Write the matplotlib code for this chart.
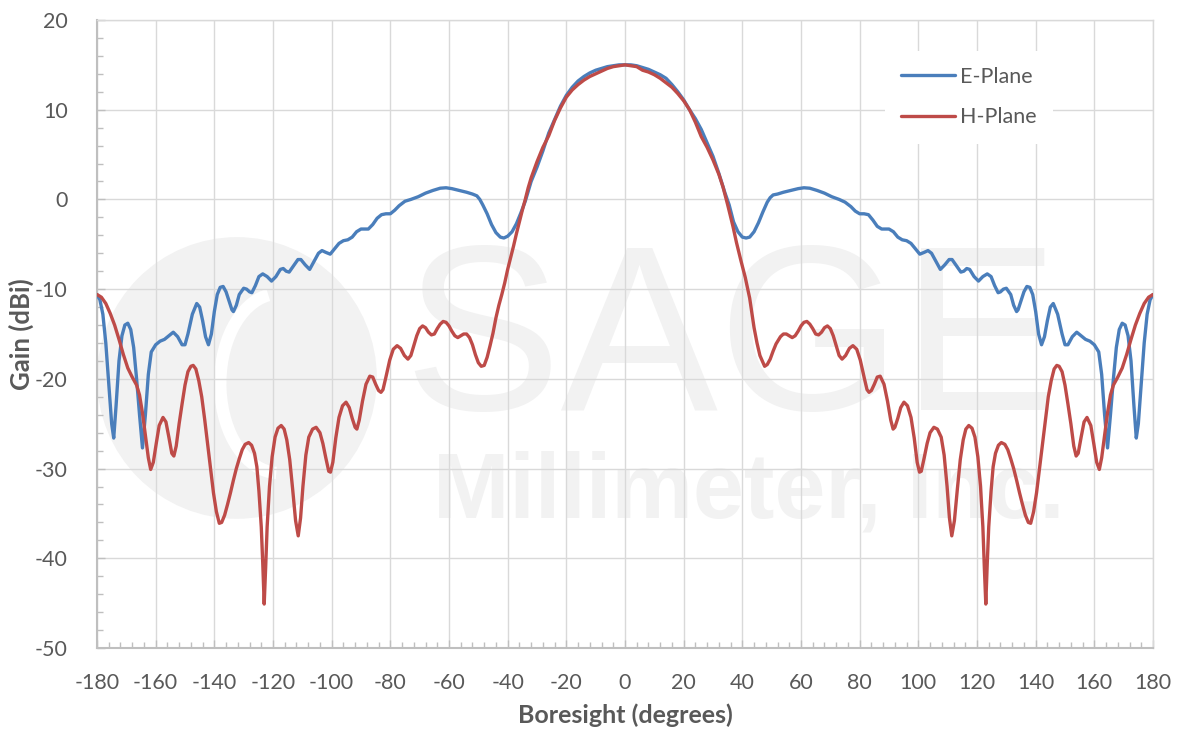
import matplotlib.pyplot as plt
from matplotlib.patches import Ellipse, Arc
from matplotlib.ticker import MultipleLocator

# E-plane (blue)
e_deg = [-180, -179, -178, -177, -176, -175, -174.3, -173.5, -172.5, -171.5, -170.5, -169.5, -168.5, -167.5,
         -166.5, -165.5, -164.5, -163.5, -162.5, -161.5, -160, -158.5, -157, -155.5, -154, -152.5, -151, -150,
         -149, -147.5, -146, -145, -144, -143, -142, -141, -140, -139, -138, -137, -136, -135, -134, -133.5,
         -132.5, -131.5, -130, -129, -128, -127.2, -126, -124.8, -123.5, -122, -120.5, -119, -117.5, -116.5,
         -115.5, -114.5, -113, -111.5, -110.5, -109, -107.5, -106, -104.5, -103.3, -102, -100.5, -99, -97.5,
         -96, -94.5, -93, -91.5, -90, -87.5, -86, -84.5, -83, -81.5, -80, -78.5, -77, -75, -73, -70.5, -68,
         -65.5, -63, -61, -59, -56.5, -54, -52, -50.5, -49.5, -48.5, -47, -45.5, -44, -42.5, -41.3, -40, -38.5,
         -37, -35.5, -34, -32, -30, -28, -26, -24, -22, -20, -18, -16, -14, -12, -10, -8, -6, -4, -2, 0,
         2, 4, 6, 8, 10, 12, 14, 16, 18, 20, 22, 24, 26, 28, 30, 32, 34, 35.5, 37, 38.5, 40, 41.3, 42.5, 44,
         45.5, 47, 48.5, 49.5, 50.5, 52, 54, 56.5, 59, 61, 63, 65.5, 68, 70.5, 73, 75, 77, 78.5, 80, 81.5, 83,
         84.5, 86, 87.5, 90, 91.5, 93, 94.5, 96, 97.5, 99, 100.5, 102, 103.3, 104.5, 106, 107.5, 109, 110.5,
         111.5, 113, 114.5, 115.5, 116.5, 117.5, 119, 120.5, 122, 123.5, 124.8, 126, 127.2, 128, 129, 130,
         131.5, 132.5, 133.5, 134, 135, 136, 137, 138, 139, 140, 141, 142, 143, 144, 145, 146, 147.5, 149,
         150, 151, 152.5, 154, 155.5, 157, 158.5, 160, 161.5, 162.5, 163.5, 164.5, 165.5, 166.5, 167.5, 168.5,
         169.5, 170.5, 171.5, 172.5, 173.5, 174.3, 175, 176, 177, 178, 179, 180]
e_gain = [-10.6, -11.2, -12.8, -16.0, -20.5, -25.0, -26.6, -23.0, -18.0, -15.2, -14.0, -13.8, -14.5, -16.5,
          -20.0, -24.0, -27.7, -24.0, -19.5, -17.0, -16.2, -15.8, -15.6, -15.2, -14.8, -15.3, -16.2, -16.2,
          -15.0, -12.8, -11.6, -12.0, -13.5, -15.3, -16.2, -15.0, -12.5, -10.6, -9.8, -9.7, -10.3, -11.3, -12.3,
          -12.5, -11.8, -10.6, -9.9, -10.0, -10.3, -10.4, -9.6, -8.6, -8.3, -8.6, -9.1, -8.6, -7.8, -7.7,
          -8.0, -8.1, -7.4, -6.7, -6.7, -7.3, -7.8, -6.9, -6.0, -5.7, -5.9, -6.1, -5.5, -4.9,
          -4.6, -4.5, -4.2, -3.6, -3.3, -3.3, -2.8, -2.1, -1.7, -1.6, -1.6, -1.2, -0.7, -0.2, 0.0, 0.3, 0.7,
          1.0, 1.25, 1.3, 1.2, 1.0, 0.8, 0.6, 0.4, 0.0, -0.6, -1.6, -2.8, -3.7, -4.2, -4.3, -4.1, -3.6,
          -2.7, -1.5, -0.2, 2.0, 3.6, 5.4, 7.4, 8.9, 10.4, 11.6, 12.5, 13.2, 13.7, 14.1, 14.4, 14.6, 14.8, 14.9,
          15.0, 15.0,
          15.0, 14.9, 14.7, 14.5, 14.2, 13.9, 13.5, 12.8, 12.0, 11.1, 10.0, 9.0, 7.8, 6.3, 4.8, 2.9, 0.8, -0.6,
          -2.5, -3.6, -4.2, -4.3, -4.2, -3.6,
          -2.6, -1.4, -0.3, 0.2, 0.5, 0.6, 0.8, 1.0, 1.2, 1.3, 1.25, 1.0, 0.7, 0.3, 0.0, -0.3, -0.8, -1.3, -1.6,
          -1.6, -1.7,
          -2.3, -3.0, -3.3, -3.3, -3.6, -4.2, -4.5, -4.6, -4.9, -5.5, -6.1, -5.9, -5.7, -6.0, -6.9, -7.8, -7.3,
          -6.7, -6.7, -7.4, -8.1, -8.0, -7.7, -7.8, -8.6, -9.1, -8.6, -8.3, -8.6, -9.6, -10.4, -10.3, -10.0,
          -9.9, -10.6, -11.8, -12.5, -12.3, -11.3, -10.3, -9.7, -9.8, -10.6, -12.5, -15.0, -16.2, -15.3, -13.5,
          -12.0, -11.6, -12.8, -15.0, -16.2, -16.2, -15.3, -14.8, -15.2, -15.6, -15.8, -16.2, -17.0, -19.5,
          -24.0, -27.7, -24.0, -20.0, -16.5, -14.5, -13.8, -14.0, -15.2, -18.0, -23.0, -26.6, -25.0, -20.5,
          -16.0, -12.8, -11.2, -10.6]

# H-plane (red)
h_deg = [-180, -178.5, -177, -175.5, -174, -172.5, -171, -169.5, -168, -166.5, -165.5, -164.5, -163.5, -162.5,
         -161.7, -160.8, -159.8, -158.8, -157.5, -156.5, -155.5, -154.5, -153.8, -153, -152, -151, -150, -149,
         -148, -147.2, -146.3, -145.3, -144.3, -143.3, -142.3, -141.3, -140.3, -139.3, -138.3, -137.5, -136.5,
         -135.5, -134.5, -133.5, -132.5, -131.5, -130.5, -129.5, -128.3, -127.3, -126.3, -125.5, -124.8, -124,
         -123.5, -123, -122.5, -122, -121.2, -120.3, -119.3, -118.3, -117.2, -116.2, -115.3, -114.3, -113.3,
         -112.3, -111.4, -110.6, -109.8, -108.8, -107.8, -106.5, -105.3, -104, -103, -102, -101, -100.4, -99.6,
         -98.6, -97.5, -96.3, -95.1, -94, -93, -92, -91.4, -90.6, -89.5, -88.3, -87, -86, -85, -84, -83.2,
         -82.5, -81.5, -80.2, -79, -77.7, -76.5, -75.2, -74, -73, -72, -71, -70, -69, -68, -67, -66, -65, -64,
         -63, -62, -61, -60, -59, -58, -57, -56, -55, -54, -53, -52, -51, -50, -49, -48, -47, -46, -45, -44,
         -43, -42, -41, -40, -39, -38, -37, -36, -35, -34, -33, -32, -30, -28, -26, -24, -22, -20, -18, -16,
         -14, -12, -10, -8, -6, -4, -2, 0,
         2, 4, 6, 8, 10, 12, 14, 16, 18, 20, 22, 24, 26, 28, 30, 32, 33.4, 35, 36.8, 38, 39.5, 41, 42.5, 44,
         45, 46, 47.6, 48.5, 49.5, 50.5, 51.5, 53, 54, 55, 56, 57, 58, 59, 60, 61, 62, 63, 64, 65, 66, 67, 68,
         69, 70, 71, 72, 73, 74, 75.2, 76.5, 77.7, 79, 80.2, 81.5, 82.5, 83.2, 84, 85, 86, 87, 88.3, 89.5,
         90.6, 91.4, 92, 93, 94, 95.1, 96.3, 97.5, 98.6, 99.6, 100.4, 101, 102, 103, 104, 105.3, 106.5, 107.8,
         108.8, 109.8, 110.6, 111.4, 112.3, 113.3, 114.3, 115.3, 116.2, 117.2, 118.3, 119.3, 120.3, 121.2, 122,
         122.5, 123, 123.5, 124, 124.8, 125.5, 126.3, 127.3, 128.3, 129.5, 130.5, 131.5, 132.5, 133.5, 134.5,
         135.5, 136.5, 137.5, 138.3, 139.3, 140.3, 141.3, 142.3, 143.3, 144.3, 145.3, 146.3, 147.2, 148, 149,
         150, 151, 152, 153, 153.8, 154.5, 155.5, 156.5, 157.5, 158.8, 159.8, 160.8, 161.7, 162.5, 163.5,
         164.5, 165.5, 166.5, 168, 169.5, 171, 172.5, 174, 175.5, 177, 178.5, 180]
h_gain = [-10.6, -10.9, -11.6, -12.7, -14.0, -15.6, -17.3, -18.8, -19.8, -20.7, -21.8, -23.8, -26.3, -28.8,
          -30.1, -29.3, -27.2, -25.2, -24.3, -24.8, -26.5, -28.3, -28.6, -27.5, -25.0, -22.8, -20.7, -19.2,
          -18.6, -18.5, -18.9, -20.2, -22.0, -24.5, -27.2, -30.0, -32.7, -34.8, -36.1, -36.0, -35.2,
          -34.0, -32.7, -31.3, -30.0, -28.9, -27.9, -27.3, -27.1, -27.4, -28.3, -29.8, -32.5, -36.5,
          -40.5, -45.1, -41.0, -36.5, -32.0, -28.7, -26.5, -25.5, -25.2, -25.6, -26.8, -29.0, -32.3,
          -35.8, -37.5, -35.5, -32.0, -28.5, -26.5, -25.6, -25.4, -26.0, -27.2, -28.8, -30.3, -30.4, -29.3,
          -26.6, -24.3, -23.0, -22.6, -23.2, -24.4, -25.4, -25.6, -24.6, -22.5, -20.6, -19.7, -19.8, -20.6,
          -21.3, -21.5, -21.2, -19.8, -17.9, -16.7, -16.3, -16.6, -17.4, -17.8, -17.4, -16.3, -15.2, -14.4,
          -14.1, -14.3, -14.8, -15.1, -15.0, -14.4, -13.9, -13.6, -13.7, -14.1, -14.7, -15.2, -15.4, -15.2,
          -15.0, -15.0, -15.4, -16.2, -17.3, -18.2, -18.6, -18.5, -17.6, -16.3, -14.9, -13.2, -11.8, -10.6,
          -9.3, -7.8, -6.5, -5.2, -3.8, -2.5, -1.2, 0.0, 1.3, 2.4, 4.2, 5.8, 7.1, 8.8, 10.2, 11.4, 12.2, 12.8,
          13.3, 13.7, 14.0, 14.3, 14.6, 14.8, 14.9, 15.0,
          14.9, 14.8, 14.4, 14.2, 13.9, 13.5, 13.0, 12.5, 11.8, 11.0, 10.0, 8.6, 7.0, 5.8, 4.4, 2.8, 1.4, -0.6,
          -3.0, -4.8, -6.8, -8.7, -11.0, -14.3, -16.0, -17.4, -18.6, -18.4, -17.8, -16.9, -16.1, -15.3, -15.0,
          -15.0, -15.2, -15.4, -15.2, -14.7, -14.1, -13.7, -13.6, -13.9, -14.4, -15.0, -15.1, -14.8, -14.3,
          -14.1, -14.4, -15.2, -16.3, -17.4, -17.8, -17.4, -16.6, -16.3, -16.7, -17.9, -19.8, -21.2, -21.5,
          -21.3, -20.6, -19.8, -19.7, -20.6, -22.5, -24.6, -25.6, -25.4, -24.4, -23.2, -22.6, -23.0, -24.3,
          -26.6, -29.3, -30.4, -30.3, -28.8, -27.2, -26.0, -25.4, -25.6, -26.5, -28.5, -32.0, -35.5, -37.5,
          -35.8, -32.3, -29.0, -26.8, -25.6, -25.2, -25.5, -26.5, -28.7, -32.0, -36.5, -41.0, -45.1, -40.5,
          -36.5, -32.5, -29.8, -28.3, -27.4, -27.1, -27.3, -27.9, -28.9, -30.0, -31.3, -32.7, -34.0, -35.2,
          -36.0, -36.1, -34.8, -32.7, -30.0, -27.2, -24.5, -22.0, -20.2, -18.9, -18.5, -18.6, -19.2, -20.7,
          -22.8, -25.0, -27.5, -28.6, -28.3, -26.5, -24.8, -24.3, -25.2, -27.2, -29.3, -30.1, -28.8, -26.3,
          -23.8, -21.8, -20.7, -19.8, -18.8, -17.3, -15.6, -14.0, -12.7, -11.6, -10.9, -10.6]

x_ticks = list(range(-180, 181, 20))
y_ticks = list(range(-50, 21, 10))

txt = '#595959'
grid_c = '#d9d9d9'
axis_c = '#bfbfbf'
wm = '#f2f2f2'

plt.rcParams['font.family'] = ['Lato', 'DejaVu Sans']
plt.rcParams['axes.unicode_minus'] = False

fig = plt.figure(figsize=(11.77, 7.29), dpi=100)
ax = fig.add_axes([97 / 1177, 1 - 648 / 729, 1056 / 1177, 628 / 729])

# faint company watermark, kept behind grid and curves
ax.add_patch(Ellipse((-132.3, -19.9), 95.4, 31.4, facecolor=wm, edgecolor='none', zorder=0.1))
ax.add_patch(Arc((-118, -20.5), 40, 20, theta1=110, theta2=265, color='white', lw=9, zorder=0.15))
ax.text(0.621, 1 - 410 / 729, 'SAGE', fontsize=170, color=wm, ha='center', va='baseline',
        family=['Liberation Sans'], transform=fig.transFigure, zorder=0.1, clip_on=False)
ax.text(0.636, 1 - 517 / 729, 'Millimeter, Inc.', fontsize=66, color=wm, ha='center', va='baseline',
        family=['Liberation Sans'], fontweight='bold', transform=fig.transFigure, zorder=0.1, clip_on=False)

ax.plot(e_deg, e_gain, color='#4a7ebb', lw=2.4, label='E-Plane', solid_capstyle='round', zorder=3)
ax.plot(h_deg, h_gain, color='#be4b48', lw=2.4, label='H-Plane', solid_capstyle='round', zorder=3)

ax.set_xlim(-180, 180)
ax.set_ylim(-50, 20)
ax.set_xticks(x_ticks)
ax.set_yticks(y_ticks)
ax.xaxis.set_minor_locator(MultipleLocator(4))
ax.yaxis.set_minor_locator(MultipleLocator(2))
ax.grid(True, which='major', color=grid_c, lw=1.0)
ax.set_axisbelow(True)

for s in ['top', 'right']:
    ax.spines[s].set_color(grid_c)
    ax.spines[s].set_linewidth(1.0)
for s in ['left', 'bottom']:
    ax.spines[s].set_color(axis_c)
    ax.spines[s].set_linewidth(1.5)

ax.tick_params(which='both', direction='in', color=axis_c, labelcolor=txt, labelsize=15.5)
ax.tick_params(which='major', length=6, width=1.0)
ax.tick_params(which='minor', length=4, width=1.0)
ax.tick_params(axis='x', pad=18)
ax.tick_params(axis='y', pad=21)

fig.text(625 / 1177, 1 - 723 / 729, 'Boresight (degrees)', fontsize=18, fontweight='bold', color=txt,
         ha='center', va='baseline')
fig.text(21 / 1177, 1 - 334 / 729, 'Gain (dBi)', fontsize=18.5, fontweight='bold', color=txt,
         ha='center', va='center', rotation=90)

leg = ax.legend(loc='upper left', bbox_to_anchor=(0.746, 0.951), borderaxespad=0, fontsize=15.5,
                frameon=True, fancybox=False, facecolor='white', edgecolor='none', framealpha=1,
                handlelength=2.5, handletextpad=0.25, labelspacing=0.95, borderpad=0.75)
for t in leg.get_texts():
    t.set_color(txt)

fig.savefig('out.png', dpi=100)
